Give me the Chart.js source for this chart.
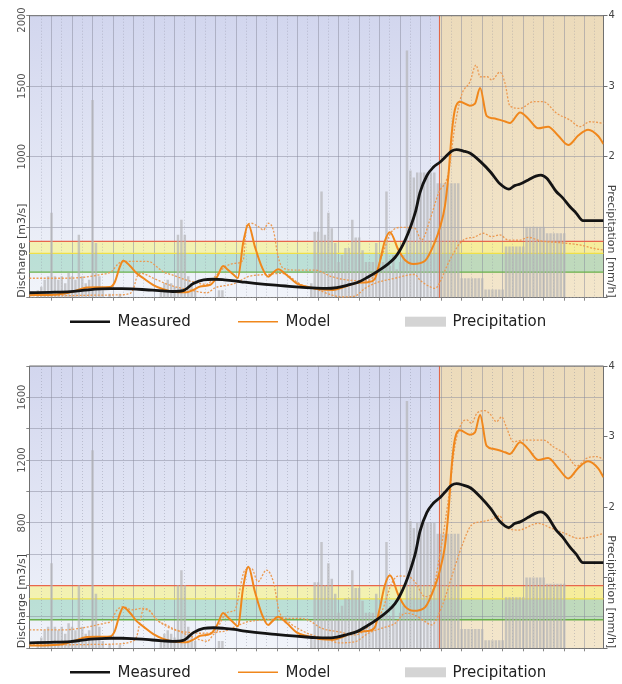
<!doctype html>
<html lang="en">
<head>
<meta charset="utf-8">
<title>Discharge forecast</title>
<script src="https://cdn.jsdelivr.net/npm/chart.js@4.4.1/dist/chart.umd.min.js"></script>
<style>
  body { margin: 0; background: #fff; }
  canvas { display: block; }
</style>
</head>
<body>
<canvas id="chartTop" width="622" height="342"></canvas>
<canvas id="chartBottom" width="622" height="342"></canvas>
<script>
// hours since the start of the 7 day window, forecast starts at hour 120
const forecastStart = 120;
const warnLevels = { red: 400, yellow: 315, green: 182 };

// [hour, m3/s]
const measured = [
  [0,35],[6,38],[12,43],[15,50],[18,58],[21,62],[24,64],[27,64],[30,62],[33,58],[36,53],[39,48],[42,44],
  [45,50],[48,100],[51,127],[54,131],[57,127],[60,120],[63,110],[66,102],[69,95],[72,89],[75,83],[78,77],
  [81,72],[84,68],[87,66],[90,72],[93,88],[96,108],[99,145],[102,188],[105,240],[107,285],[108.4,335],
  [110,410],[111.5,500],[113,610],[114.3,745],[116.3,865],[118.2,925],[120.2,962],[121.6,995],[123.6,1040],
  [125,1050],[127,1040],[129,1024],[132,965],[135,890],[137.7,808],[140.3,770],[142,795],[143.6,806],
  [146,835],[148.2,862],[149.7,870],[151.4,847],[154.1,755],[156,710],[158.2,645],[160,600],[162,546],[168,546]
];

const model = [
  [0,18],[6,20],[10,28],[13,45],[16.8,72],[20,74],[23.6,76],[25,110],[26.5,220],[27.5,262],[29.5,225],
  [31.4,173],[33.4,138],[36.3,90],[39.2,60],[42.1,43],[46,38],[48,55],[50,80],[53,92],[55,150],[56.7,225],
  [58,200],[59.7,165],[61,140],[62.6,393],[64.1,520],[66,362],[68,220],[69.9,149],[71,170],[72.8,201],
  [75.3,161],[78.2,102],[81.2,78],[85,60],[88.9,55],[91.8,74],[95.8,105],[99,110],[101,130],[102.5,250],
  [104,400],[105.5,465],[108,338],[109.9,267],[112.4,239],[115.8,262],[118.7,397],[120.2,503],[121.6,650],
  [122.6,860],[123.6,1166],[124.5,1331],[126,1390],[128.9,1362],[130.4,1377],[131.9,1487],[133.8,1290],
  [135.7,1272],[139.2,1250],[140.6,1239],[143.6,1314],[146,1270],[148.9,1201],[151.8,1213],[154.7,1150],
  [157.7,1083],[160.6,1150],[163.5,1192],[166.5,1145],[168,1090]
];

const upperTop = [
  [0,138],[10,138],[16,145],[21,165],[24,185],[26,240],[27.5,258],[33,258],[35.3,255],[37,225],[39.2,184],
  [42,160],[46,125],[51.9,95],[54.3,149],[57.3,220],[60.2,244],[62.6,267],[63.6,516],[65,528],[67,504],
  [68.5,480],[69.9,528],[71.4,480],[72.8,291],[74.3,209],[78,196],[83.6,196],[88.5,149],[93.2,125],[98,120],
  [101,160],[103.1,291],[106,468],[109,499],[112.8,492],[114.8,409],[117.2,551],[119.7,740],[122.6,882],
  [124.5,1213],[126.5,1440],[128.9,1530],[130.7,1650],[131.9,1567],[134,1567],[135.3,1544],[137.7,1600],
  [139.2,1520],[140.6,1360],[143.6,1343],[147.5,1390],[150.4,1390],[154.3,1308],[158.2,1260],[161.1,1213],
  [164,1248],[168,1237]
];

const lowerTop = [
  [0,15],[10,15],[20,18],[26,20],[29.5,30],[30.5,66],[31.5,149],[32.8,173],[36.3,138],[41,90],[46,60],
  [52,35],[54.3,70],[57,85],[60,100],[64,149],[67,161],[70,165],[73.8,173],[79.8,90],[84.5,55],[88.5,19],
  [91.4,5],[95.3,12],[98.2,66],[101.1,102],[107,138],[112.8,165],[114.3,125],[117.2,78],[118.8,66],
  [120.2,113],[122.1,220],[124.1,315],[126,386],[128,421],[130,428],[132.9,457],[135.3,433],[137.7,445],
  [140.1,409],[143.6,409],[146,428],[149.4,404],[155.3,390],[161.1,374],[165,350],[168,338]
];

const upperBottom = [
  [0,117],[10,117],[14,125],[18,140],[22,160],[24,175],[25.5,240],[27.5,265],[30,245],[33,255],[35,245],
  [37.3,180],[40,150],[43,117],[47,100],[50,96],[54.8,106],[56,170],[58.4,233],[60,240],[63.1,499],[65,510],
  [66.9,425],[69.4,499],[71.4,425],[73.3,223],[75.3,191],[78.7,191],[81.6,180],[85.5,128],[90.4,106],
  [95.3,85],[99.2,138],[103.1,233],[106,414],[108,461],[110.9,457],[112.8,425],[115.8,329],[117.5,340],
  [120.2,606],[123.1,1030],[124.5,1285],[126.5,1435],[128,1456],[129.4,1435],[131,1500],[133.3,1515],
  [134.8,1494],[136.7,1445],[138.2,1475],[139.7,1403],[141.6,1317],[144.5,1328],[147.5,1328],[150.4,1328],
  [153.3,1285],[157.2,1233],[160.2,1162],[163.1,1212],[166,1222],[168,1205]
];

const lowerBottom = [
  [0,21],[10,22],[20,25],[26,28],[29.5,40],[31.4,74],[32.5,180],[33.4,249],[35,240],[37.5,180],[41,130],
  [44,106],[48,70],[52,45],[54.3,96],[57.3,110],[60.2,138],[64.1,170],[68,180],[71.9,185],[74.8,180],
  [77.7,138],[82.6,85],[87.5,57],[90.4,35],[95.3,42],[99.2,96],[103.1,128],[107,159],[110,223],[112.8,212],
  [115.8,170],[117.7,149],[120.7,265],[123.6,457],[126.5,648],[129.4,786],[132.4,807],[135.3,822],
  [137.7,844],[139.2,776],[143.1,754],[148.9,797],[152.8,765],[156.7,733],[160.6,701],[164.5,712],[168,733]
];

// hourly precipitation [mm/h], one value per hour 0..167
const precip = [
  0, 0, 0.1, 0.15, 0.25, 0.3, 1.2, 0.3, 0.25, 0.3, 0.2, 0.35,
  0.3, 0.25, 0.89, 0.3, 0.2, 0.25, 2.8, 0.77, 0.3, 0.1, 0, 0.05,
  0, 0, 0.05, 0, 0, 0, 0, 0, 0, 0, 0, 0,
  0, 0, 0.1, 0.2, 0.25, 0.2, 0.15, 0.89, 1.1, 0.89, 0.3, 0.2,
  0.1, 0, 0, 0, 0, 0, 0, 0.1, 0.1, 0, 0, 0,
  0, 0, 0, 0, 0, 0, 0, 0, 0, 0, 0, 0,
  0, 0, 0, 0, 0, 0, 0, 0, 0, 0, 0.2, 0.93,
  0.93, 1.5, 0.89, 1.2, 0.98, 0.77, 0.5, 0.6, 0.7, 0.7, 1.1, 0.85,
  0.85, 0.67, 0.5, 0.5, 0.5, 0.77, 0.5, 0.5, 1.5, 0.45, 0.6, 0.4,
  0.5, 0.6, 3.5, 1.8, 1.7, 1.77, 1.77, 1.77, 1.77, 1.77, 1.77, 1.62,
  1.62, 1.62, 1.62, 1.62, 1.62, 1.62, 0.27, 0.27, 0.27, 0.27, 0.27, 0.27,
  0.27, 0.11, 0.11, 0.11, 0.11, 0.11, 0.11, 0.72, 0.72, 0.72, 0.72, 0.72,
  0.72, 1.0, 1.0, 1.0, 1.0, 1.0, 1.0, 0.91, 0.91, 0.91, 0.91, 0.91,
  0.91, 0, 0, 0, 0, 0, 0, 0, 0, 0, 0, 0
];

const leftLabelsTop = [1000, 1500, 2000];
const leftLabelsBottom = [800, 1200, 1600];
const rightLabels = [2, 3, 4];
const legendNames = ['Measured', 'Model', 'Precipitation'];

Chart.defaults.font.family = 'DejaVu Sans';

const majorGrid = [];
const minorGrid = [];
for (let h = 6.5; h < 168; h += 6) majorGrid.push(h);
for (let h = 3.5; h < 168; h += 6) minorGrid.push(h);

const hydroPlugin = {
  id: 'hydro',
  beforeDraw(chart) {
    const {ctx, chartArea: a, scales: {x, y}} = chart;
    const xf = x.getPixelForValue(forecastStart);
    ctx.save();
    let g = ctx.createLinearGradient(0, a.top, 0, a.bottom);
    g.addColorStop(0, '#d2d6ee');
    g.addColorStop(1, '#f1f4fa');
    ctx.fillStyle = g;
    ctx.fillRect(a.left, a.top, xf - a.left, a.height);
    g = ctx.createLinearGradient(0, a.top, 0, a.bottom);
    g.addColorStop(0, '#ecdbbb');
    g.addColorStop(1, '#f3e6cb');
    ctx.fillStyle = g;
    ctx.fillRect(xf, a.top, a.right - xf, a.height);
    const yr = y.getPixelForValue(warnLevels.red);
    const yy = y.getPixelForValue(warnLevels.yellow);
    const yg = y.getPixelForValue(warnLevels.green);
    ctx.fillStyle = 'rgba(250,244,120,0.55)';
    ctx.fillRect(a.left, yr, a.width, yy - yr);
    ctx.fillStyle = 'rgba(128,205,172,0.45)';
    ctx.fillRect(a.left, yy, a.width, yg - yy);
    ctx.restore();
  },
  beforeDatasetsDraw(chart) {
    const {ctx, chartArea: a, scales: {x, y}} = chart;
    ctx.save();
    ctx.lineWidth = 1.3;
    [[warnLevels.red, '#e8664c'], [warnLevels.yellow, '#efe048'], [warnLevels.green, '#68b04a']].forEach(([v, c]) => {
      const py = y.getPixelForValue(v);
      ctx.strokeStyle = c;
      ctx.beginPath();
      ctx.moveTo(a.left, py);
      ctx.lineTo(a.right, py);
      ctx.stroke();
    });
    const xf = x.getPixelForValue(forecastStart);
    ctx.strokeStyle = '#e4603e';
    ctx.lineWidth = 1;
    ctx.beginPath();
    ctx.moveTo(xf, a.top);
    ctx.lineTo(xf, a.bottom);
    ctx.stroke();
    ctx.restore();
  },
  afterDraw(chart, args, opts) {
    const {ctx, chartArea: a, scales: {y}} = chart;
    ctx.save();
    // top frame
    ctx.strokeStyle = '#707070';
    ctx.lineWidth = 1;
    ctx.beginPath();
    ctx.moveTo(a.left, a.top);
    ctx.lineTo(a.right, a.top);
    ctx.stroke();

    // rotated left tick labels
    ctx.fillStyle = '#555';
    ctx.font = '10px "DejaVu Sans"';
    ctx.textAlign = 'center';
    ctx.textBaseline = 'middle';
    opts.leftLabels.forEach(v => {
      const py = Math.max(y.getPixelForValue(v), a.top + 4.3);
      ctx.save();
      ctx.translate(a.left - 6.8, py);
      ctx.rotate(-Math.PI / 2);
      ctx.fillText(String(v), 0, 0);
      ctx.restore();
    });

    // axis titles
    ctx.font = '11px "DejaVu Sans"';
    ctx.fillStyle = '#444';
    ctx.save();
    ctx.translate(a.left - 6.8, a.bottom);
    ctx.rotate(-Math.PI / 2);
    ctx.textAlign = 'left';
    ctx.fillText('Discharge [m3/s]', 0, 0);
    ctx.restore();
    ctx.save();
    ctx.translate(a.right + 7.5, a.bottom);
    ctx.rotate(Math.PI / 2);
    ctx.textAlign = 'right';
    ctx.fillText('Precipitation [mm/h]', 0, 0);
    ctx.restore();

    // legend in fixed columns
    const ly = a.bottom + 24;
    const cols = [70, 238, 405];
    ctx.font = '15px "DejaVu Sans"';
    ctx.textAlign = 'left';
    ctx.fillStyle = '#222';
    legendNames.forEach((name, i) => {
      const cx = cols[i];
      if (i < 2) {
        ctx.strokeStyle = i === 0 ? '#141414' : '#f0871c';
        ctx.lineWidth = i === 0 ? 2.5 : 1.6;
        ctx.beginPath();
        ctx.moveTo(cx, ly);
        ctx.lineTo(cx + 40, ly);
        ctx.stroke();
      } else {
        ctx.fillStyle = '#d4d4d4';
        ctx.fillRect(cx, ly - 5, 41, 10);
      }
      ctx.fillStyle = '#222';
      ctx.fillText(name, cx + 47.5, ly + 0.5);
    });
    ctx.restore();
  }
};

const toXY = pts => pts.map(p => ({ x: p[0], y: p[1] }));

function buildChart(id, cfg) {
  return new Chart(document.getElementById(id), {
    type: 'line',
    data: {
      datasets: [
        { label: 'Measured', data: toXY(measured), borderColor: '#141414', borderWidth: 2.8, order: 0 },
        { label: 'Model', data: toXY(model), borderColor: '#f0871c', borderWidth: 2, order: 1 },
        { label: 'Upper', data: toXY(cfg.upper), borderColor: '#ec9a52', borderWidth: 1.3, borderDash: [2, 1.6], order: 2 },
        { label: 'Lower', data: toXY(cfg.lower), borderColor: '#ec9a52', borderWidth: 1.3, borderDash: [2, 1.6], order: 2 },
        {
          type: 'bar', label: 'Precipitation', yAxisID: 'y1', order: 5,
          data: precip.map((v, i) => ({ x: i + 0.5, y: v })),
          backgroundColor: 'rgba(178,178,182,0.68)', barThickness: 1.8
        }
      ]
    },
    options: {
      responsive: false,
      animation: false,
      events: [],
      elements: {
        point: { radius: 0 },
        line: { cubicInterpolationMode: 'monotone', fill: false }
      },
      layout: { padding: { top: cfg.padTop, bottom: cfg.padBottom } },
      plugins: {
        legend: { display: false },
        tooltip: { enabled: false },
        hydro: { leftLabels: cfg.leftLabels }
      },
      scales: {
        x: {
          type: 'linear', position: 'bottom', min: 0, max: 168, offset: false,
          afterBuildTicks: s => { s.ticks = majorGrid.map(v => ({ value: v })); },
          afterFit: s => { s.height = 4; },
          ticks: { display: false },
          grid: { offset: false, color: 'rgba(135,138,156,0.5)', tickLength: 3, tickColor: '#888' },
          border: { color: '#707070' }
        },
        xm: {
          type: 'linear', position: 'bottom', min: 0, max: 168, offset: false,
          afterBuildTicks: s => { s.ticks = minorGrid.map(v => ({ value: v })); },
          afterFit: s => { s.height = 0; },
          ticks: { display: false },
          grid: { offset: false, color: 'rgba(135,138,156,0.4)', drawTicks: false },
          border: { display: false, dash: [1, 2] }
        },
        y: {
          position: 'left', min: 0, max: cfg.yMax,
          afterFit: s => { s.width = 29.3; },
          ticks: { display: false, stepSize: cfg.yStep },
          grid: { color: 'rgba(135,138,156,0.5)', tickLength: 3, tickColor: '#888' },
          border: { color: '#707070' }
        },
        y1: {
          position: 'right', min: 0, max: 4,
          afterFit: s => { s.width = 18.5; },
          ticks: {
            stepSize: 1, padding: 1, color: '#444', font: { size: 10 },
            callback: v => rightLabels.includes(v) ? String(v) : ''
          },
          grid: { drawOnChartArea: false, tickLength: 4, tickColor: '#707070' },
          border: { color: '#707070' }
        }
      }
    },
    plugins: [hydroPlugin]
  });
}

buildChart('chartTop', {
  upper: upperTop, lower: lowerTop, yMax: 2000, yStep: 500,
  leftLabels: leftLabelsTop, padTop: 15.7, padBottom: 40.3
});
buildChart('chartBottom', {
  upper: upperBottom, lower: lowerBottom, yMax: 1800, yStep: 200,
  leftLabels: leftLabelsBottom, padTop: 24, padBottom: 31.7
});
</script>
</body>
</html>
